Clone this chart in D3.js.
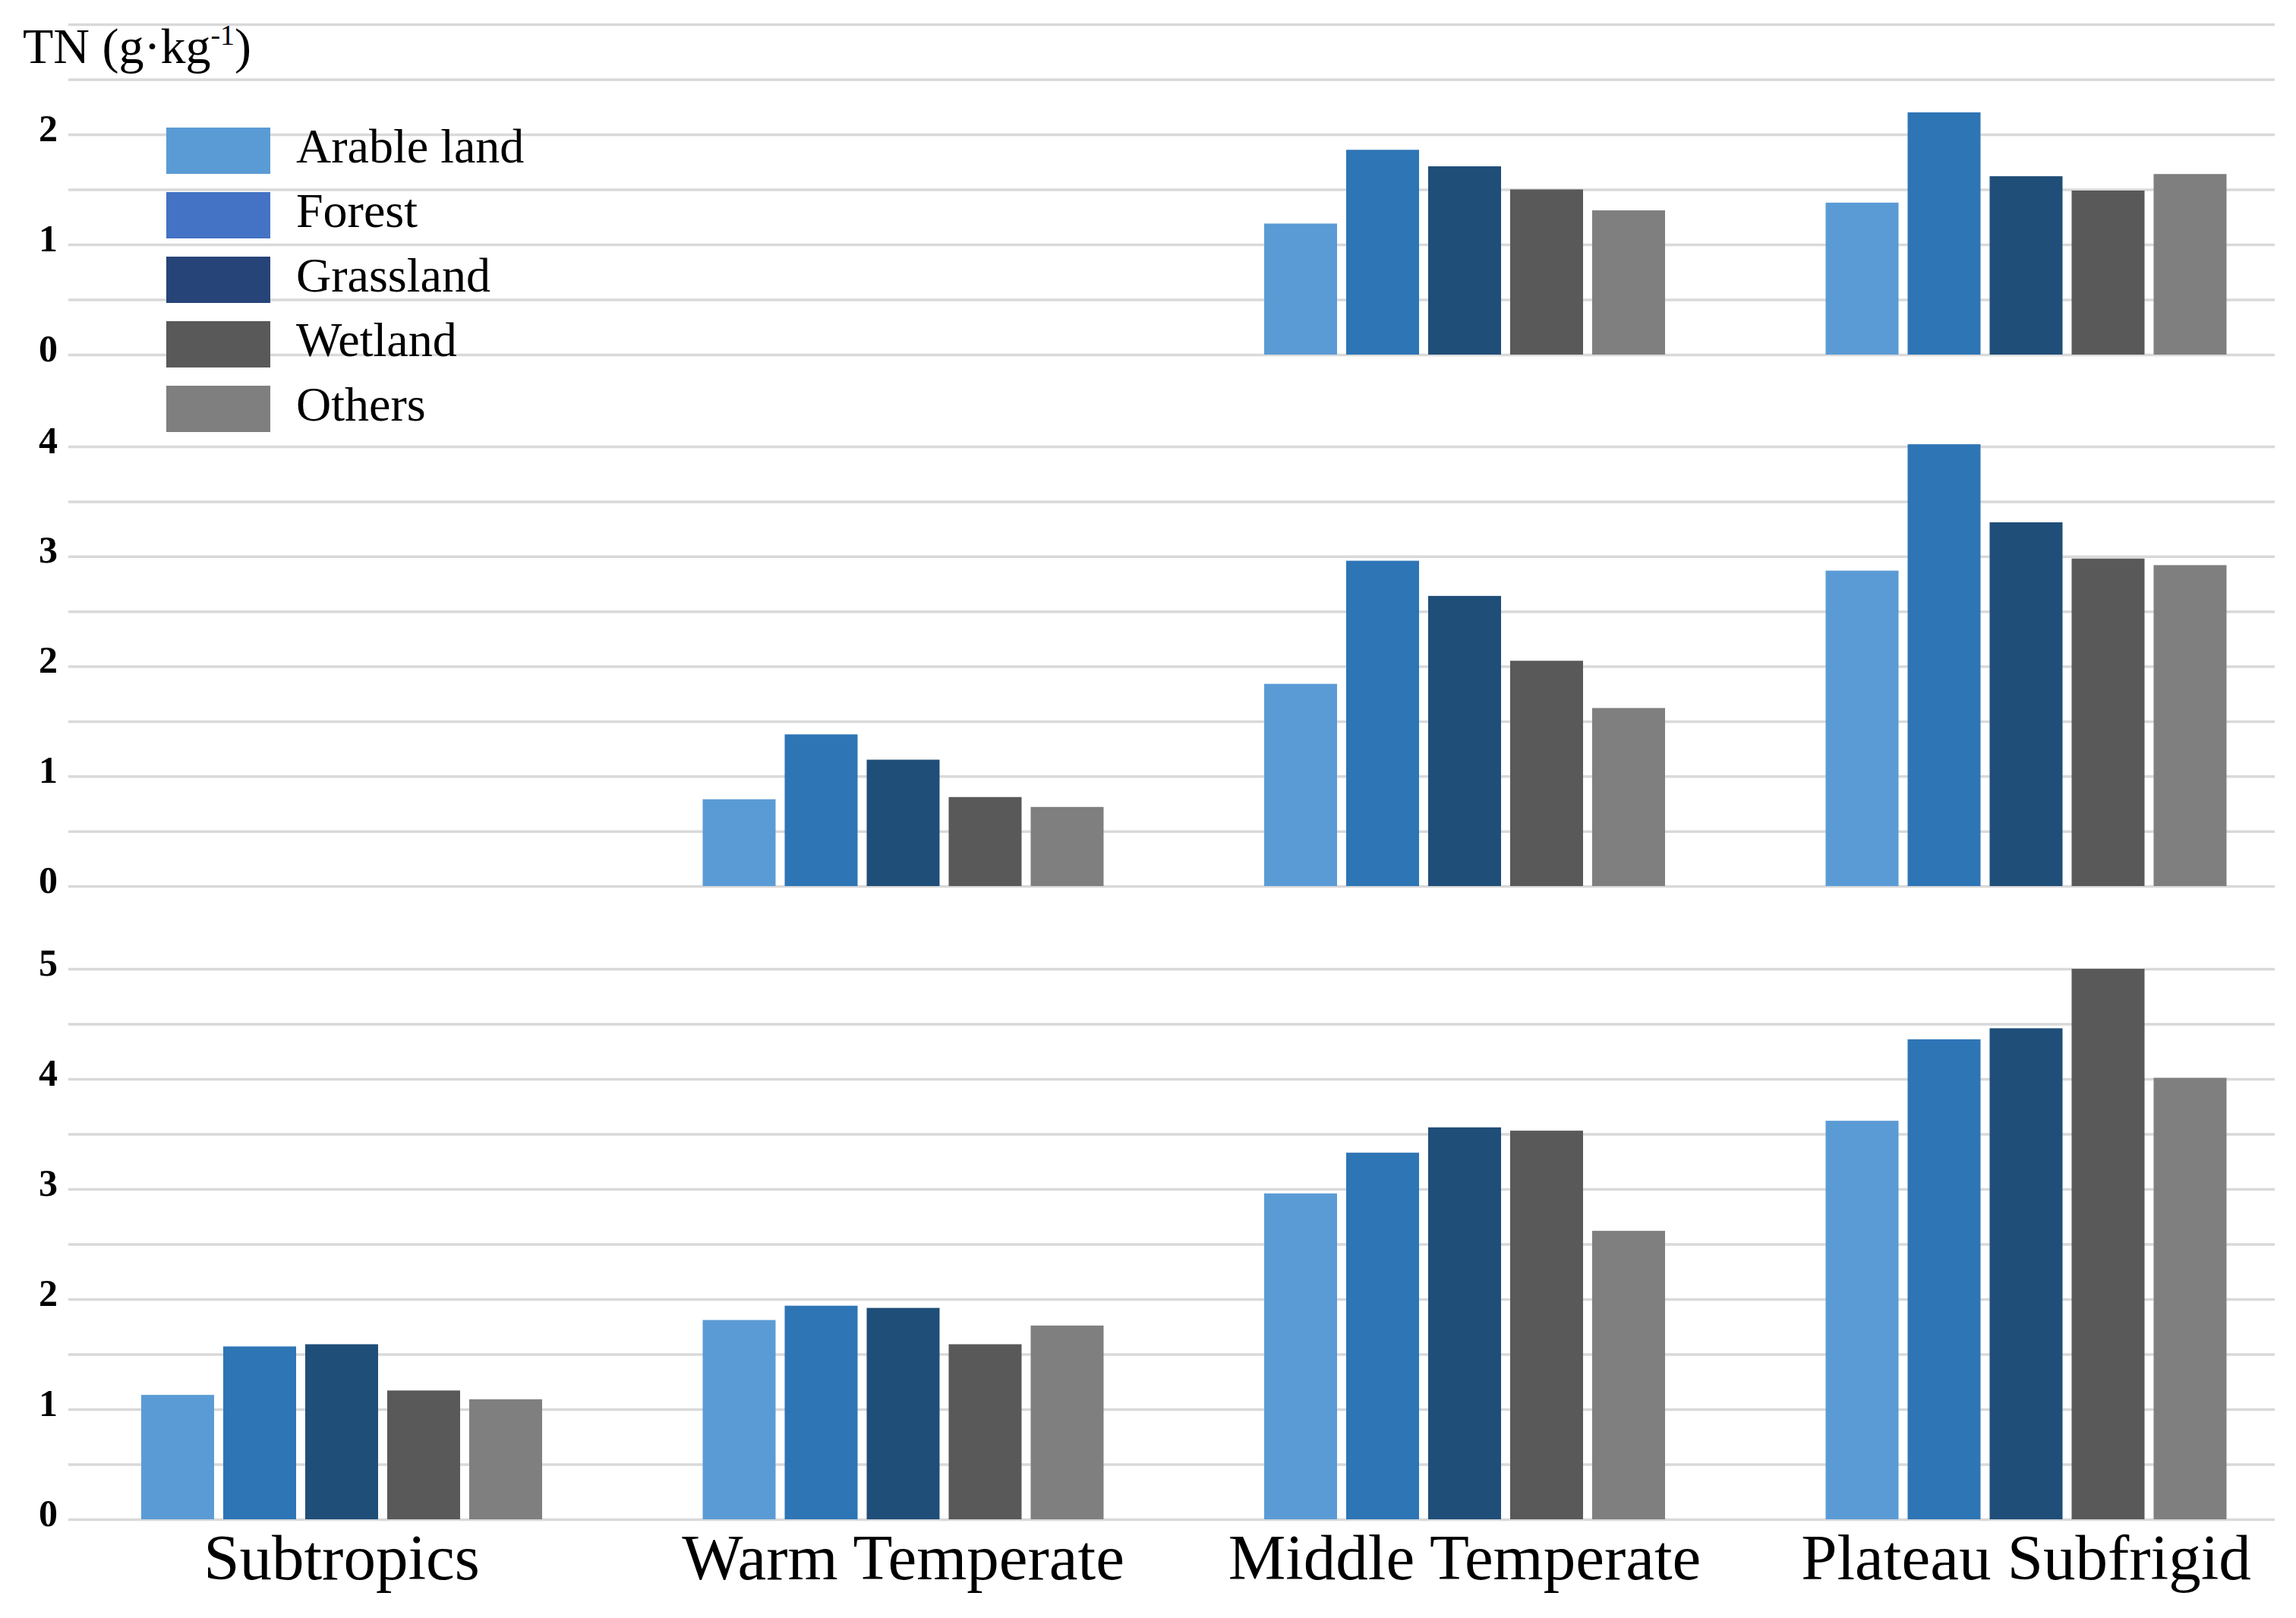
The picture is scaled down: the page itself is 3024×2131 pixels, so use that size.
<!DOCTYPE html>
<html>
<head>
<meta charset="utf-8">
<script src="https://cdn.jsdelivr.net/npm/d3@7"></script>
<style>
  body { margin: 0; background: #fff; }
  svg { display: block; }
</style>
</head>
<body>
<div id="chart"></div>
<script>
// categories and series
let categories = ["Subtropics", "Warm Temperate", "Middle Temperate", "Plateau Subfrigid"];
let series = ["Arable land", "Forest", "Grassland", "Wetland", "Others"];

// TN values per panel, one row per category (null = no data)
let topValues = [
    null,
    null,
    [1.19, 1.86, 1.71, 1.50, 1.31],
    [1.38, 2.20, 1.62, 1.49, 1.64]
];
let midValues = [
    null,
    [0.79, 1.38, 1.15, 0.81, 0.72],
    [1.84, 2.96, 2.64, 2.05, 1.62],
    [2.87, 4.02, 3.31, 2.98, 2.92]
];
let bottomValues = [
    [1.13, 1.57, 1.59, 1.17, 1.09],
    [1.81, 1.94, 1.92, 1.59, 1.76],
    [2.96, 3.33, 3.56, 3.53, 2.62],
    [3.62, 4.36, 4.46, 5.00, 4.01]
];

// tick labels for each panel
let topTicks = [0, 1, 2];
let midTicks = [0, 1, 2, 3, 4];
let bottomTicks = [0, 1, 2, 3, 4, 5];

let barColors = ["#5b9bd5", "#2e75b6", "#1f4e79", "#595959", "#7f7f7f"];
let legendColors = ["#5b9bd5", "#4472c4", "#264478", "#595959", "#7f7f7f"];

let W = 3024, H = 2131;
let gridLeft = 90, gridRight = 2996;
let font = "'Liberation Serif', 'Times New Roman', serif";

let svg = d3.select("#chart")
    .append("svg")
    .attr("width", W)
    .attr("height", H);

svg.append("rect").attr("width", W).attr("height", H).attr("fill", "#fff");

// x scales shared by all three panels
let x0 = d3.scaleBand()
    .domain(categories)
    .range([80.25, 80.25 + 4 * 739.5]);

let x1 = d3.scaleBand()
    .domain(series)
    .range([105.75, 633.75])
    .paddingInner(12 / 108);

let panels = [
    {values: topValues, ticks: topTicks, max: 3, y0: 467, y1: 32},
    {values: midValues, ticks: midTicks, max: 4, y0: 1167, y1: 588},
    {values: bottomValues, ticks: bottomTicks, max: 5, y0: 2001, y1: 1276}
];

panels.forEach(function (p) {
    let y = d3.scaleLinear()
        .domain([0, p.max])
        .range([p.y0, p.y1]);

    // gridlines every 0.5
    let halves = d3.range(0, p.max + 0.01, 0.5);
    let grid = svg.append("g")
        .attr("transform", "translate(" + gridLeft + ",0)")
        .call(d3.axisLeft(y).tickValues(halves).tickSize(-(gridRight - gridLeft)).tickFormat(""));
    grid.select(".domain").remove();
    grid.selectAll("line").attr("stroke", "#d9d9d9").attr("stroke-width", 3.5);

    // tick labels
    let ax = svg.append("g")
        .attr("transform", "translate(" + gridLeft + ",-8)")
        .call(d3.axisLeft(y).tickValues(p.ticks).tickSize(0).tickPadding(14).tickFormat(d3.format("d")));
    ax.select(".domain").remove();
    ax.selectAll("text")
        .attr("fill", "#000")
        .style("font-family", font)
        .style("font-size", "50px")
        .style("font-weight", "bold");

    // bars
    let rows = categories.map(function (c, i) {
        return {cat: c, vals: p.values[i]};
    }).filter(function (r) { return r.vals; });

    svg.append("g")
        .selectAll("g")
        .data(rows)
        .enter()
        .append("g")
        .attr("transform", function (d) { return "translate(" + x0(d.cat) + ",0)"; })
        .selectAll("rect")
        .data(function (d) {
            return d.vals.map(function (v, j) { return {s: series[j], v: v, j: j}; });
        })
        .enter()
        .append("rect")
        .attr("x", function (d) { return x1(d.s); })
        .attr("width", x1.bandwidth())
        .attr("y", function (d) { return y(d.v); })
        .attr("height", function (d) { return y(0) - y(d.v); })
        .attr("fill", function (d) { return barColors[d.j]; });
});

// category labels along the bottom
let xAxis = svg.append("g")
    .attr("transform", "translate(0,2001)")
    .call(d3.axisBottom(x0).tickSize(0).tickPadding(19));
xAxis.select(".domain").remove();
xAxis.selectAll("text")
    .attr("fill", "#000")
    .style("font-family", font)
    .style("font-size", "85px");

// y title
let title = svg.append("text")
    .attr("x", 30)
    .attr("y", 83)
    .style("font-family", font)
    .style("font-size", "66px")
    .attr("fill", "#000");
title.append("tspan").text("TN (g·kg");
title.append("tspan").attr("dy", -24).style("font-size", "38px").text("-1");
title.append("tspan").attr("dy", 24).text(")");

// legend
let legend = svg.append("g")
    .selectAll("g")
    .data(series)
    .enter()
    .append("g")
    .attr("transform", function (d, i) { return "translate(219," + (168 + i * 85) + ")"; });

legend.append("rect")
    .attr("width", 137)
    .attr("height", 61)
    .attr("fill", function (d, i) { return legendColors[i]; });

legend.append("text")
    .attr("x", 171)
    .attr("y", 46)
    .style("font-family", font)
    .style("font-size", "64px")
    .attr("fill", "#000")
    .text(function (d) { return d; });
</script>
</body>
</html>
